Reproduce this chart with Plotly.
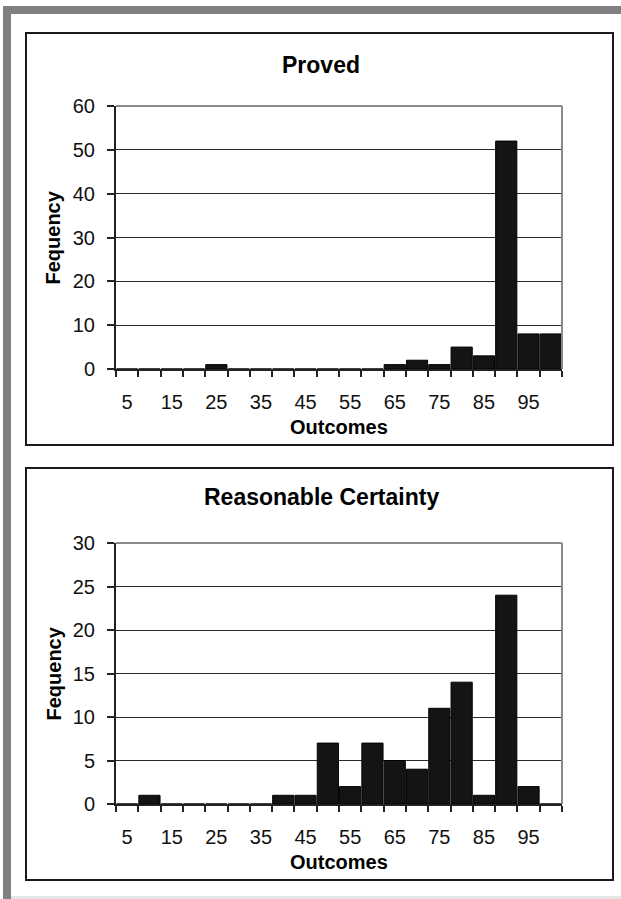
import plotly.graph_objects as go

W, H = 621, 899

categories = [str(v) for v in range(5, 101, 5)]
tick_labels = [c if i % 2 == 0 else "" for i, c in enumerate(categories)]
proved = [0, 0, 0, 0, 1, 0, 0, 0, 0, 0, 0, 0, 1, 2, 1, 5, 3, 52, 8, 8]
reasonable = [0, 1, 0, 0, 0, 0, 0, 1, 1, 7, 2, 7, 5, 4, 11, 14, 1, 24, 2, 0]

FONT = "Liberation Sans, Arial, sans-serif"


def px_x(x):
    return x / W


def px_y(y):
    return 1 - y / H


fig = go.Figure()
fig.add_trace(go.Bar(x=categories, y=proved, xaxis="x", yaxis="y",
                     marker=dict(color="#141414", line=dict(color="#000000", width=1))))
fig.add_trace(go.Bar(x=categories, y=reasonable, xaxis="x2", yaxis="y2",
                     marker=dict(color="#141414", line=dict(color="#000000", width=1))))

panels = [
    dict(box=(26, 33, 613, 445), plot=(116, 106, 562, 369), title="Proved", ymax=60, dtick=10,
         title_y=65, xtitle_y=427),
    dict(box=(26, 468, 613, 880), plot=(116, 543, 562, 804), title="Reasonable Certainty", ymax=30, dtick=5,
         title_y=497, xtitle_y=862),
]

shapes = []
annotations = []
# grey page frame
shapes.append(dict(type="rect", xref="paper", yref="paper", x0=px_x(3), x1=px_x(621),
                   y0=px_y(14), y1=px_y(6), fillcolor="#808080", line=dict(width=0), layer="below"))
shapes.append(dict(type="rect", xref="paper", yref="paper", x0=px_x(3), x1=px_x(11),
                   y0=px_y(899), y1=px_y(6), fillcolor="#808080", line=dict(width=0), layer="below"))
shapes.append(dict(type="rect", xref="paper", yref="paper", x0=px_x(11), x1=px_x(621),
                   y0=px_y(899), y1=px_y(896), fillcolor="#e6e6e6", line=dict(width=0), layer="below"))

for i, p in enumerate(panels):
    sfx = "" if i == 0 else "2"
    bx0, by0, bx1, by1 = p["box"]
    x0, y0, x1, y1 = p["plot"]
    shapes.append(dict(type="rect", xref="paper", yref="paper", x0=px_x(bx0), x1=px_x(bx1),
                       y0=px_y(by1), y1=px_y(by0), line=dict(color="#1a1a1a", width=2), layer="below"))
    # plot-area top and right border (grey)
    shapes.append(dict(type="line", xref="paper", yref="paper", x0=px_x(x0), x1=px_x(x1),
                       y0=px_y(y0), y1=px_y(y0), line=dict(color="#8a8a8a", width=2)))
    shapes.append(dict(type="line", xref="paper", yref="paper", x0=px_x(x1), x1=px_x(x1),
                       y0=px_y(y1), y1=px_y(y0), line=dict(color="#8a8a8a", width=2)))
    fig.layout["xaxis" + sfx] = dict(
        domain=[px_x(x0), px_x(x1)], anchor="y" + sfx, type="category",
        categoryorder="array", categoryarray=categories,
        range=[-0.5, len(categories) - 0.5], automargin=False,
        tickmode="array", tickvals=categories, ticktext=tick_labels,
        tickson="boundaries", ticks="outside", ticklen=6, tickwidth=1.5, tickcolor="#222",
        showline=True, linecolor="#222", linewidth=2, showgrid=False, zeroline=False,
        ticklabelstandoff=14, tickangle=0,
        tickfont=dict(family=FONT, size=20, color="#111"), fixedrange=True,
    )
    fig.layout["yaxis" + sfx] = dict(
        domain=[px_y(y1), px_y(y0)], anchor="x" + sfx, automargin=False,
        range=[0, p["ymax"]], tick0=0, dtick=p["dtick"],
        ticks="outside", ticklen=7, tickwidth=1.5, tickcolor="#222",
        showline=True, linecolor="#222", linewidth=2,
        showgrid=True, gridcolor="#2a2a2a", gridwidth=1, zeroline=False,
        ticklabelstandoff=8,
        tickfont=dict(family=FONT, size=20, color="#111"), fixedrange=True,
    )
    annotations.append(dict(text="<b>%s</b>" % p["title"], xref="paper", yref="paper",
                            x=px_x((x0 + x1) / 2 - 18), y=px_y(p["title_y"]), showarrow=False,
                            xanchor="center", yanchor="middle",
                            font=dict(family=FONT, size=23, color="#000")))
    annotations.append(dict(text="<b>Outcomes</b>", xref="paper", yref="paper",
                            x=px_x((x0 + x1) / 2), y=px_y(p["xtitle_y"]), showarrow=False,
                            xanchor="center", yanchor="middle",
                            font=dict(family=FONT, size=20, color="#000")))
    annotations.append(dict(text="<b>Fequency</b>", xref="paper", yref="paper",
                            x=px_x(53), y=px_y((y0 + y1) / 2), showarrow=False, textangle=-90,
                            xanchor="center", yanchor="middle",
                            font=dict(family=FONT, size=20, color="#000")))

fig.update_layout(
    template="none",
    width=W, height=H, margin=dict(l=0, r=0, t=0, b=0, pad=0, autoexpand=False),
    paper_bgcolor="#ffffff", plot_bgcolor="#ffffff",
    showlegend=False, bargap=0.05,
    shapes=shapes, annotations=annotations,
)

fig.write_html("out.html", config={"displayModeBar": False},
               post_script="document.body.style.margin='0';document.body.style.padding='0';document.body.style.overflow='hidden';")
